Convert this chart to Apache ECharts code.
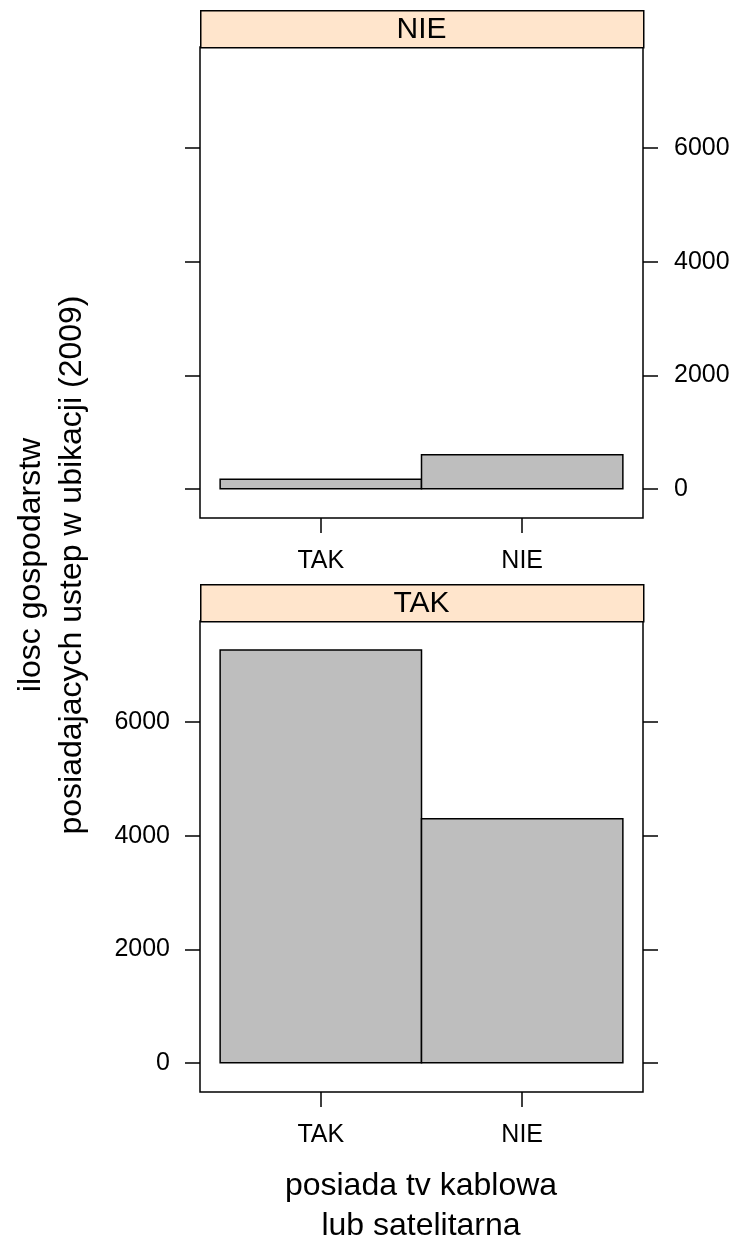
<!DOCTYPE html>
<html>
<head>
<meta charset="utf-8">
<script src="https://cdn.jsdelivr.net/npm/echarts@6/dist/echarts.min.js"></script>
<style>
html,body{margin:0;padding:0;background:#fff;}
#chart{width:737px;height:1242px;}
</style>
</head>
<body>
<div id="chart"></div>
<script>
// ---- data ----
var categories = ['TAK', 'NIE'];
var panelLabels = ['NIE', 'TAK'];          // strip labels, top to bottom
var valuesPanelNIE = [170, 600];           // top panel
var valuesPanelTAK = [7270, 4300];         // bottom panel
var yTicks = [0, 2000, 4000, 6000];
var yTitle = 'ilosc gospodarstw\nposiadajacych ustep w ubikacji (2009)';
var xTitle = 'posiada tv kablowa\nlub satelitarna';

var panelValues = [valuesPanelNIE, valuesPanelTAK];

var FONT = 'Liberation Sans, Arial, sans-serif';
var YMIN = -514, YMAX = 7782;
var gridLeft = 200, gridW = 443, gridH = 471;
var gridTops = [47, 621];
var stripH = 37;
var TICKFS = 25;

var chart = echarts.init(document.getElementById('chart'), null, {renderer: 'canvas'});

var grids = [], xAxes = [], yAxes = [], series = [], graphics = [];

function plain(v) { return String(Math.round(v)); }

gridTops.forEach(function (top, i) {
  grids.push({left: gridLeft, top: top, width: gridW, height: gridH,
    show: true, borderColor: '#000', borderWidth: 1.5, backgroundColor: 'rgba(0,0,0,0)'});
  xAxes.push({
    gridIndex: i, type: 'value', min: 0.4, max: 2.6, position: 'bottom',
    axisLine: {show: false, onZero: false}, splitLine: {show: false},
    axisTick: {show: true, customValues: [1, 2], length: 15, inside: false,
      lineStyle: {color: '#000', width: 1.5}},
    axisLabel: {show: true, customValues: [1, 2], margin: 31,
      formatter: function (v) { return categories[Math.round(v) - 1]; },
      color: '#000', fontSize: TICKFS, fontFamily: FONT}
  });
  // left y axis
  yAxes.push({
    gridIndex: i, type: 'value', position: 'left', min: YMIN, max: YMAX,
    axisLine: {show: false, onZero: false}, splitLine: {show: false},
    axisTick: {show: true, customValues: yTicks, length: 15, inside: false,
      lineStyle: {color: '#000', width: 1.5}},
    axisLabel: {show: i === 1, customValues: yTicks, margin: 30, formatter: plain,
      color: '#000', fontSize: TICKFS, fontFamily: FONT}
  });
  // right y axis
  yAxes.push({
    gridIndex: i, type: 'value', position: 'right', min: YMIN, max: YMAX,
    axisLine: {show: false, onZero: false}, splitLine: {show: false},
    axisTick: {show: true, customValues: yTicks, length: 15, inside: false,
      lineStyle: {color: '#000', width: 1.5}},
    axisLabel: {show: i === 0, customValues: yTicks, margin: 31, formatter: plain,
      color: '#000', fontSize: TICKFS, fontFamily: FONT}
  });

  var vals = panelValues[i];
  series.push({
    type: 'custom',
    xAxisIndex: i, yAxisIndex: i * 2,
    data: vals.map(function (v, k) { return [k + 1, v]; }),
    renderItem: function (params, api) {
      var x = api.value(0), y = api.value(1);
      var p0 = api.coord([x - 0.5, 0]);
      var p1 = api.coord([x + 0.5, y]);
      return {
        type: 'rect',
        shape: {x: p0[0], y: p1[1], width: p1[0] - p0[0], height: p0[1] - p1[1]},
        style: {fill: '#bebebe', stroke: '#000', lineWidth: 1.5}
      };
    },
    silent: true
  });

  // strip
  graphics.push({
    type: 'rect', left: gridLeft, top: top - stripH,
    shape: {x: 0, y: 0, width: gridW, height: stripH},
    style: {fill: '#ffe5cc', stroke: '#000', lineWidth: 1.5}, z: 10
  });
  graphics.push({
    type: 'text', x: gridLeft + gridW / 2, y: top - stripH / 2 + 1, z: 11,
    style: {text: panelLabels[i], fill: '#000', font: '30px ' + FONT,
      textAlign: 'center', textVerticalAlign: 'middle'}
  });
});

graphics.push({
  type: 'text', x: 52, y: 565, rotation: Math.PI / 2, z: 11,
  style: {text: yTitle, fill: '#000', font: '32px ' + FONT, lineHeight: 41,
    textAlign: 'center', textVerticalAlign: 'middle'}
});
graphics.push({
  type: 'text', x: 421, y: 1206, z: 11,
  style: {text: xTitle, fill: '#000', font: '32px ' + FONT, lineHeight: 40,
    textAlign: 'center', textVerticalAlign: 'middle'}
});

chart.setOption({
  animation: false,
  backgroundColor: '#fff',
  grid: grids,
  xAxis: xAxes,
  yAxis: yAxes,
  series: series,
  graphic: graphics
});
</script>
</body>
</html>
